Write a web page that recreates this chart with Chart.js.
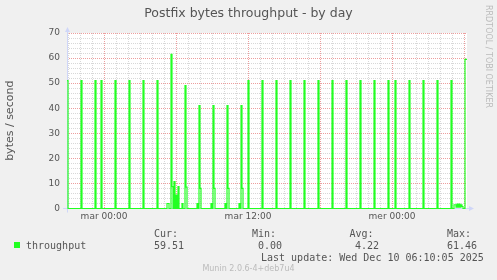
<!DOCTYPE html>
<html>
  <head>
    <title>Postfix bytes throughput - by day</title>
    <script src="https://cdn.jsdelivr.net/npm/chart.js"></script>
    <style>
      body { margin: 0; background: #f0f0f0; }
      .munin { position: relative; width: 497px; height: 280px; background: #f0f0f0; overflow: hidden; }
      .munin canvas { position: absolute; left: 0; top: 0; }
      .txt { position: absolute; white-space: pre; color: #555; }
      .mono { font: 10px/12px "DejaVu Sans Mono", monospace; }
      .titre { left: 0; width: 497px; top: 5px; text-align: center; font: 12.5px/15px "DejaVu Sans", sans-serif; }
      .marca { font: 8px/10px "DejaVu Sans", sans-serif; color: #bbb; }
      .carre { position: absolute; left: 14px; top: 242px; width: 6px; height: 6px; background: #22ff22; }
    </style>
  </head>

  <body>
    <div class="munin">
      <canvas id="postfixBytes" width="497" height="280"></canvas>
      <div class="txt titre">Postfix bytes throughput - by day</div>
      <div class="txt marca" style="left: 483px; top: 5px; writing-mode: vertical-rl">RRDTOOL / TOBI OETIKER</div>

      <div class="carre"></div>
      <div class="txt mono" style="left: 26px; top: 239.5px" id="nomSerie"></div>
      <div class="txt mono" style="left: 154px; top: 227.8px">Cur:</div>
      <div class="txt mono" style="left: 252px; top: 227.8px">Min:</div>
      <div class="txt mono" style="left: 349.5px; top: 227.8px">Avg:</div>
      <div class="txt mono" style="left: 447px; top: 227.8px">Max:</div>
      <div class="txt mono" style="left: 154px; top: 239.5px" id="cur"></div>
      <div class="txt mono" style="left: 258px; top: 239.5px" id="min"></div>
      <div class="txt mono" style="left: 355px; top: 239.5px" id="avg"></div>
      <div class="txt mono" style="left: 447px; top: 239.5px" id="max"></div>
      <div class="txt mono" style="left: 261px; top: 251.5px">Last update: Wed Dec 10 06:10:05 2025</div>
      <div class="txt marca" style="left: 0; width: 497px; top: 264px; text-align: center">Munin 2.0.6-4+deb7u4</div>
    </div>

    <script>
      // minutes depuis mar 00:00 (1 px = 5 min)
      var minutes = [
        -185, -180, -115, -110, -45, -40, -15, -10,
        55, 60, 125, 130, 195, 200, 265, 270,
        315, 325,
        335, 340, 345, 350, 355, 360, 365, 370, 375,
        390, 395,
        405, 410, 415,
        465, 470, 475, 480, 485,
        535, 540, 545, 550, 555,
        605, 610, 615, 620, 625,
        675, 680, 685, 690, 695,
        720, 725, 790, 795, 860, 865, 930, 935, 1000, 1005,
        1070, 1075, 1140, 1145, 1210, 1215, 1280, 1285, 1350, 1355,
        1420, 1425, 1455, 1460, 1525, 1530, 1595, 1600, 1665, 1670,
        1735, 1740,
        1750, 1760, 1765, 1770, 1775, 1780, 1785, 1790, 1795,
        1805, 1815
      ];
      var bytes = [
        51, 0, 51, 0, 51, 0, 51, 0,
        51, 0, 51, 0, 51, 0, 51, 0,
        2, 0,
        61.46, 8.7, 0, 10.7, 0, 5.3, 0, 8.7, 0,
        2, 0,
        49, 8.5, 0,
        2, 0, 41, 8, 0,
        2, 0, 41, 8, 0,
        2, 0, 41, 8, 0,
        2, 0, 41, 8, 0,
        51, 0, 51, 0, 51, 0, 51, 0, 51, 0,
        51, 0, 51, 0, 51, 0, 51, 0, 51, 0,
        51, 0, 51, 0, 51, 0, 51, 0, 51, 0,
        51, 0,
        1.5, 0.5, 1.8, 0.5, 1.8, 0.5, 1.5, 0.8, 0,
        59.51, 59.51
      ];
      var tickMinutes = [0, 720, 1440];
      var tickLabels = ["mar 00:00", "mar 12:00", "mer 00:00"];
      var serie = "throughput";
      var stats = ["59.51", "0.00", "4.22", "61.46"]; // cur, min, avg, max

      document.getElementById("nomSerie").textContent = serie;
      document.getElementById("cur").textContent = stats[0];
      document.getElementById("min").textContent = stats[1];
      document.getElementById("avg").textContent = stats[2];
      document.getElementById("max").textContent = stats[3];

      var gris = "rgba(143,143,143,0.35)";
      var rouge = "rgba(222,79,79,0.55)";
      var axe = "#CFD6F8";

      var fondBlanc = {
        id: "fondBlanc",
        beforeDraw(chart) {
          var a = chart.chartArea;
          chart.ctx.save();
          chart.ctx.fillStyle = "#fff";
          chart.ctx.fillRect(a.left, a.top, a.right - a.left, a.bottom - a.top);
          chart.ctx.restore();
        },
      };

      var fleches = {
        id: "fleches",
        beforeDatasetsDraw(chart) {
          var ctx = chart.ctx, a = chart.chartArea;
          var x = Math.round(a.left) + 0.5, y = Math.floor(a.bottom) + 0.5;
          ctx.save();
          ctx.strokeStyle = axe;
          ctx.fillStyle = axe;
          ctx.lineWidth = 1;
          ctx.beginPath();
          ctx.moveTo(x, a.bottom + 4);
          ctx.lineTo(x, a.top - 4);
          ctx.moveTo(a.left - 4, y);
          ctx.lineTo(a.right + 4, y);
          ctx.stroke();
          ctx.beginPath();
          ctx.moveTo(x - 2.5, a.top - 1);
          ctx.lineTo(x, a.top - 6);
          ctx.lineTo(x + 2.5, a.top - 1);
          ctx.fill();
          ctx.beginPath();
          ctx.moveTo(a.right + 2, y - 2.5);
          ctx.lineTo(a.right + 7, y);
          ctx.lineTo(a.right + 2, y + 2.5);
          ctx.fill();
          ctx.restore();
        },
      };

      Chart.defaults.font.family = "DejaVu Sans";

      var points = minutes.map((m, i) => ({ x: m, y: bytes[i] }));

      var graphe = new Chart(document.getElementById("postfixBytes").getContext("2d"), {
        type: "line",
        data: {
          datasets: [
            {
              label: serie,
              data: points,
              borderColor: "#22ff22",
              backgroundColor: "#22ff22",
              borderWidth: 1.2,
              pointRadius: 0,
              stepped: true,
              fill: false,
              clip: 2,
            },
          ],
        },
        options: {
          responsive: false,
          animation: false,
          layout: { padding: { top: 33, right: 30, bottom: 0, left: 0 } },
          plugins: {
            legend: { display: false },
            tooltip: { enabled: false },
          },
          scales: {
            x: {
              type: "linear",
              min: -185,
              max: 1815,
              afterFit(scale) { scale.height = 71.5; },
              ticks: {
                stepSize: 60,
                autoSkip: false,
                includeBounds: false,
                maxRotation: 0,
                minRotation: 0,
                padding: 3,
                color: "#555",
                font: { size: 9 },
                callback: (v) => {
                  var i = tickMinutes.indexOf(v);
                  return i < 0 ? "" : tickLabels[i];
                },
              },
              grid: {
                drawTicks: false,
                color: (c) => (c.tick.value % 360 === 0 ? rouge : gris),
              },
              border: { display: false, dash: [1, 1] },
            },
            y: {
              min: 0,
              max: 70,
              afterFit(scale) { scale.width = 67; },
              ticks: {
                stepSize: 2,
                autoSkip: false,
                padding: 7,
                color: "#555",
                font: { size: 9 },
                callback: (v) => (v % 10 === 0 ? v : ""),
              },
              grid: {
                drawTicks: false,
                color: (c) => (c.tick.value === 0 ? "rgba(0,0,0,0)" : c.tick.value % 10 === 0 ? rouge : gris),
              },
              border: { display: false, dash: [1, 1] },
              title: {
                display: true,
                text: "bytes / second",
                color: "#555",
                font: { size: 11 },
                padding: { top: 3.4, bottom: 0 },
              },
            },
          },
        },
        plugins: [fondBlanc, fleches],
      });
    </script>
  </body>
</html>
